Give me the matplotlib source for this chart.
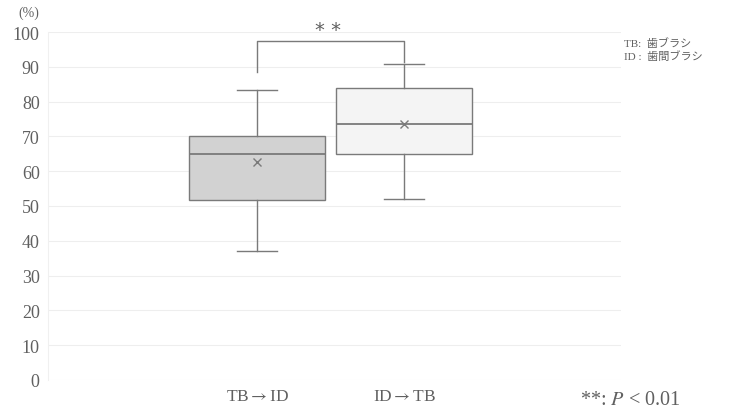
import matplotlib
matplotlib.use("Agg")
import matplotlib.pyplot as plt

plt.rcParams['font.family'] = ['Liberation Serif', 'Noto Sans CJK JP', 'DejaVu Sans']
plt.rcParams['mathtext.fontset'] = 'stix'

groups = ['TB→ID', 'ID→TB']
whislo = [37.1, 52.0]
q1 = [51.7, 64.9]
med = [64.9, 73.6]
q3 = [70.1, 83.9]
whishi = [83.3, 90.8]
means = [62.6, 73.6]
fills = ['#d2d2d2', '#f4f4f4']
yticks = list(range(0, 101, 10))

txt = '#606060'
edge = '#7a7a7a'

fig = plt.figure(figsize=(7.31, 4.14), dpi=100)
ax = fig.add_axes([48 / 731, 33 / 414, 573 / 731, 348 / 414])

stats = []
for i in range(len(groups)):
    stats.append(dict(label=groups[i], whislo=whislo[i], q1=q1[i], med=med[i],
                      q3=q3[i], whishi=whishi[i], mean=means[i], fliers=[]))

bp = ax.bxp(stats, positions=[1, 2], widths=0.92, capwidths=0.27,
            patch_artist=True, showmeans=True, showfliers=False,
            boxprops=dict(edgecolor=edge, linewidth=1.0),
            medianprops=dict(color=edge, linewidth=1.3),
            whiskerprops=dict(color=edge, linewidth=1.0),
            capprops=dict(color=edge, linewidth=1.0),
            meanprops=dict(marker='x', markeredgecolor=edge, markersize=6,
                           markeredgewidth=1.0))
for patch, c in zip(bp['boxes'], fills):
    patch.set_facecolor(c)
    patch.set_zorder(2)

ax.set_xlim(-0.422, 3.476)
ax.set_ylim(0, 100)
ax.set_yticks(yticks)
ax.set_yticklabels([str(v) for v in yticks], fontsize=13, color=txt)
ax.set_xticks([1, 2])
# stix arrow is longer than the one in Liberation Serif
ax.set_xticklabels([g.replace('→', r'$\rightarrow$') for g in groups],
                   fontsize=12.5, color=txt)
ax.tick_params(axis='both', length=0)
ax.tick_params(axis='y', pad=6)
ax.tick_params(axis='x', pad=6)
ax.grid(axis='y', color='#eeeeee', linewidth=0.8, zorder=0)
ax.set_axisbelow(True)
for s in ['top', 'right', 'bottom']:
    ax.spines[s].set_visible(False)
ax.spines['left'].set_color('#f0f0f0')

# significance bracket
ax.plot([1, 1, 2, 2], [88.6, 97.3, 97.3, 91.4], color=edge, linewidth=1.0,
        clip_on=False)
ax.text(1.48, 98.0, '* *', ha='center', va='bottom', fontsize=14, color=txt,
        family='DejaVu Sans')

fig.text(18 / 731, 1 - 13 / 414, '(%)', fontsize=10, color=txt, va='center')
fig.text(624 / 731, 1 - 44 / 414, 'TB:  歯ブラシ', fontsize=8, color=txt, va='center')
fig.text(624 / 731, 1 - 57 / 414, 'ID :  歯間ブラシ', fontsize=8, color=txt, va='center')
fig.text(580 / 731, 1 - 401 / 414, '**: $P$ < 0.01', fontsize=14.5, color=txt,
         va='center')

fig.savefig('out.png', dpi=100)
